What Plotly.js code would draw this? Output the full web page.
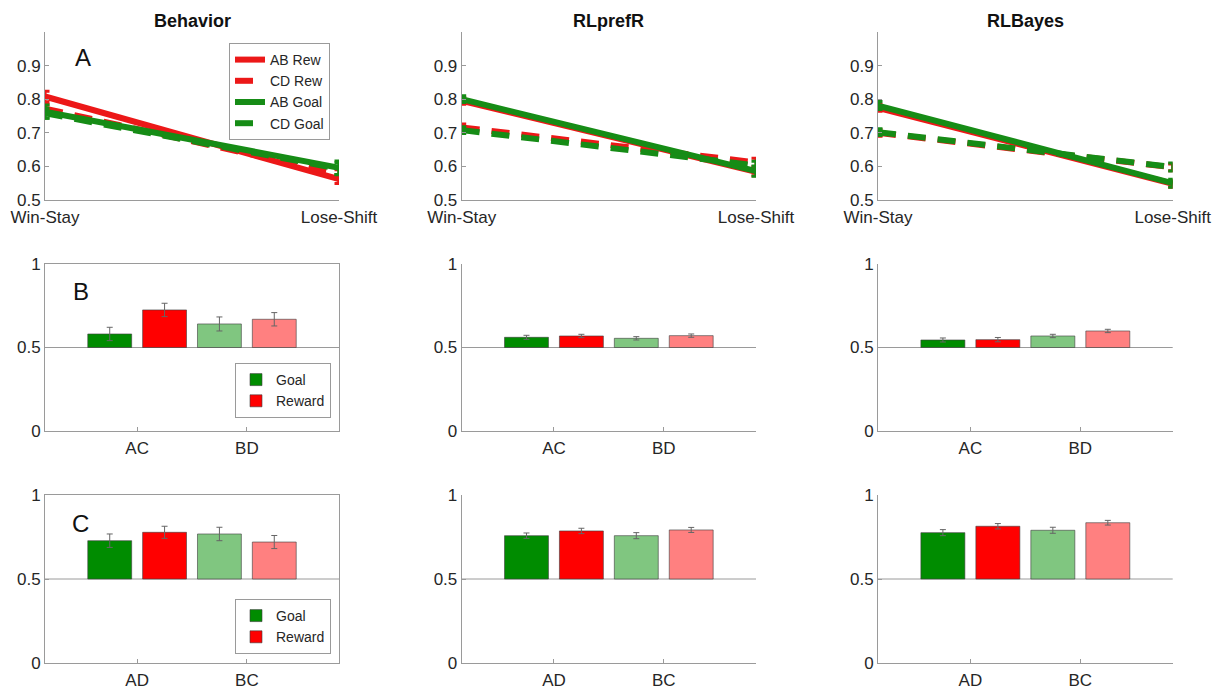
<!DOCTYPE html>
<html>
<head>
<meta charset="utf-8">
<script src="https://cdn.plot.ly/plotly-3.0.1.min.js"></script>
<style>
  html, body { margin: 0; padding: 0; background: #fff; }
  #chart { width: 1221px; height: 692px; }
</style>
</head>
<body>
<div id="chart"></div>
<script>
// ---- data ----------------------------------------------------------------
const models = ['Behavior', 'RLprefR', 'RLBayes'];
const stayShift = ['Win-Stay', 'Lose-Shift'];
const seriesNames = ['AB Rew', 'CD Rew', 'AB Goal', 'CD Goal'];

// Win-Stay / Lose-Shift probability per model, [Win-Stay, Lose-Shift]
const abRew     = [[0.808, 0.562], [0.795, 0.584], [0.774, 0.548]];
const abRewErr  = [[0.016, 0.013], [0.010, 0.012], [0.010, 0.010]];
const cdRew     = [[0.772, 0.578], [0.716, 0.612], [0.700, 0.597]];
const cdRewErr  = [[0.012, 0.012], [0.010, 0.012], [0.010, 0.010]];
const abGoal    = [[0.763, 0.596], [0.800, 0.586], [0.781, 0.550]];
const abGoalErr = [[0.020, 0.020], [0.010, 0.015], [0.012, 0.012]];
const cdGoal    = [[0.758, 0.593], [0.708, 0.603], [0.702, 0.598]];
const cdGoalErr = [[0.015, 0.018], [0.010, 0.012], [0.010, 0.012]];

// Transfer-pair accuracy per model
const pairsB = ['AC', 'BD'];
const goalB     = [[0.581, 0.641], [0.561, 0.555], [0.545, 0.569]];
const goalBErr  = [[0.040, 0.042], [0.012, 0.010], [0.012, 0.010]];
const rewB      = [[0.725, 0.669], [0.569, 0.571], [0.547, 0.599]];
const rewBErr   = [[0.040, 0.040], [0.010, 0.010], [0.013, 0.010]];

const pairsC = ['AD', 'BC'];
const goalC     = [[0.728, 0.768], [0.758, 0.758], [0.776, 0.790]];
const goalCErr  = [[0.040, 0.040], [0.016, 0.018], [0.018, 0.018]];
const rewC      = [[0.778, 0.720], [0.786, 0.792], [0.814, 0.835]];
const rewCErr   = [[0.036, 0.039], [0.016, 0.015], [0.016, 0.014]];

const panelLetters = ['A', 'B', 'C'];
const chance = 0.5;

// ---- style ---------------------------------------------------------------
const W = 1221, H = 692;
const FONT = 'Liberation Sans, Arial, Helvetica, sans-serif';
const RED = 'rgb(236,24,24)';
const GREEN = 'rgb(22,140,22)';
const goalColors = ['rgb(0,140,0)', 'rgb(128,198,128)'];
const rewColors  = ['rgb(255,0,0)', 'rgb(255,128,128)'];
const axisGray = '#9a9a9a';
const textCol = '#262626';

// pixel boxes of the panels, converted to paper fractions
const colPx = [[45, 339], [461.7, 756], [878, 1172.7]];
const rowPx = [[32, 200], [264, 431], [495, 663]];
const xdom = c => [colPx[c][0] / W, colPx[c][1] / W];
const ydom = r => [1 - rowPx[r][1] / H, 1 - rowPx[r][0] / H];

const traces = [];
const layout = {
  width: W, height: H,
  margin: { l: 0, r: 0, t: 0, b: 0 },
  paper_bgcolor: '#fff', plot_bgcolor: '#fff',
  font: { family: FONT, color: textCol },
  showlegend: true,
  barmode: 'group', bargap: 0, bargroupgap: 0.2,
  annotations: [], shapes: []
};

function axisBase() {
  return {
    showline: true, linecolor: axisGray, linewidth: 1,
    ticks: 'inside', ticklen: 4, tickcolor: axisGray,
    showgrid: false, zeroline: false, fixedrange: true,
    tickfont: { family: FONT, size: 17, color: textCol },
    automargin: false
  };
}

const lineSeries = [
  { name: seriesNames[0], v: abRew,  e: abRewErr,  color: RED,   dash: 'solid' },
  { name: seriesNames[1], v: cdRew,  e: cdRewErr,  color: RED,   dash: '18px,12px' },
  { name: seriesNames[2], v: abGoal, e: abGoalErr, color: GREEN, dash: 'solid' },
  { name: seriesNames[3], v: cdGoal, e: cdGoalErr, color: GREEN, dash: '18px,12px' }
];

for (let c = 0; c < 3; c++) {
  // ---- row A: win-stay / lose-shift lines
  const iA = c + 1;
  const sx = iA === 1 ? '' : iA;
  lineSeries.forEach(s => {
    traces.push({
      type: 'scatter', mode: 'lines',
      x: stayShift, y: s.v[c],
      xaxis: 'x' + sx, yaxis: 'y' + sx,
      name: s.name, legend: 'legend',
      showlegend: c === 0,
      cliponaxis: false,
      line: { color: s.color, width: 6, dash: s.dash },
      error_y: { type: 'data', array: s.e[c], visible: true,
                 color: s.color, thickness: 3, width: 4.5 },
      hoverinfo: 'x+y+name'
    });
  });
  layout['xaxis' + sx] = Object.assign(axisBase(), {
    domain: xdom(c), anchor: 'y' + sx, type: 'category',
    categoryorder: 'array', categoryarray: stayShift, range: [0, 1],
    ticklabelstandoff: 2
  });
  layout['yaxis' + sx] = Object.assign(axisBase(), {
    domain: ydom(0), anchor: 'x' + sx, range: [0.5, 1],
    tickvals: [0.5, 0.6, 0.7, 0.8, 0.9]
  });

  // ---- rows B and C: pair accuracy bars
  [[pairsB, goalB, goalBErr, rewB, rewBErr, 1],
   [pairsC, goalC, goalCErr, rewC, rewCErr, 2]].forEach(([cats, g, gE, rw, rwE, r]) => {
    const i = r * 3 + c + 1;
    const leg = r === 1 ? 'legend2' : 'legend3';
    [[g, gE, goalColors, 'Goal'], [rw, rwE, rewColors, 'Reward']].forEach(([vals, errs, cols, nm]) => {
      traces.push({
        type: 'bar', x: cats,
        y: vals[c].map(v => v - chance), base: chance,
        customdata: vals[c],
        xaxis: 'x' + i, yaxis: 'y' + i,
        name: nm, legend: leg, showlegend: c === 0,
        marker: { color: cols, line: { color: 'rgba(60,60,60,0.75)', width: 0.8 } },
        error_y: { type: 'data', array: errs[c], visible: true,
                   color: '#666', thickness: 1, width: 3 },
        hovertemplate: '%{x}: %{customdata:.3f}<extra>' + nm + '</extra>'
      });
    });
    layout['xaxis' + i] = Object.assign(axisBase(), {
      domain: xdom(c), anchor: 'y' + i, type: 'category',
      categoryorder: 'array', categoryarray: cats, range: [-0.84, 1.84],
      mirror: c === 0, ticklabelstandoff: 2
    });
    layout['yaxis' + i] = Object.assign(axisBase(), {
      domain: ydom(r), anchor: 'x' + i, range: [0, 1],
      tickvals: [0, 0.5, 1], mirror: c === 0
    });
    // chance level baseline
    layout.shapes.push({
      type: 'line', xref: 'x' + i + ' domain', yref: 'y' + i,
      x0: 0, x1: 1, y0: chance, y1: chance, layer: 'below',
      line: { color: axisGray, width: 1 }
    });
  });

  // column titles
  layout.annotations.push({
    text: '<b>' + models[c] + '</b>', xref: 'paper', yref: 'paper',
    x: (xdom(c)[0] + xdom(c)[1]) / 2, y: 1 - 21 / H,
    xanchor: 'center', yanchor: 'middle', showarrow: false,
    font: { family: FONT, size: 18, color: '#111' }
  });
}

// panel letters
[[83, 57], [81, 291], [81, 523]].forEach(([px, py], k) => {
  layout.annotations.push({
    text: panelLetters[k], xref: 'paper', yref: 'paper',
    x: px / W, y: 1 - py / H, xanchor: 'center', yanchor: 'middle',
    showarrow: false, font: { family: FONT, size: 24, color: '#111' }
  });
});

const legendStyle = (x, y) => ({
  x: x / W, y: 1 - y / H, xanchor: 'left', yanchor: 'top',
  bgcolor: '#fff', bordercolor: axisGray, borderwidth: 1,
  font: { family: FONT, size: 14, color: textCol },
  tracegroupgap: 0, itemclick: false, itemdoubleclick: false
});
layout.legend  = legendStyle(229, 43);
layout.legend2 = legendStyle(235, 363);
layout.legend3 = legendStyle(235, 599);

Plotly.newPlot('chart', traces, layout, { displayModeBar: false, staticPlot: true });
</script>
</body>
</html>
